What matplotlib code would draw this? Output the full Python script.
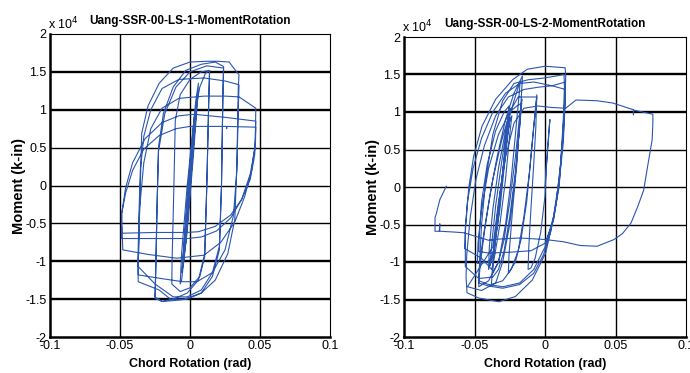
import matplotlib
matplotlib.use("Agg")
import matplotlib.pyplot as plt
from matplotlib.ticker import FixedLocator, FuncFormatter

plt.rcParams['font.family'] = ['Liberation Sans', 'DejaVu Sans']

# ---------------------------------------------------------------
# Specimen LS-1: chord rotation (rad) vs moment (k-in)
# ---------------------------------------------------------------
ls1_path = [
    # small elastic cycles
    (0.000, 0), (0.0015, 4000), (0.003, 7500), (0.0025, 5500), (0.000, -500),
    (-0.002, -5000), (-0.003, -7500), (-0.0025, -5500), (0.000, 500), (0.002, 5500),
    (0.0032, 8000), (0.0027, 6000), (0.000, -500), (-0.0025, -6000), (-0.0033, -8000),
    (-0.0028, -6000), (0.001, 3000), (0.004, 9500), (0.005, 11500), (0.0045, 10000),
    (0.0015, 3000), (-0.002, -5500), (-0.0045, -10000), (-0.0055, -11000), (-0.005, -9500),
    (-0.001, 0), (0.003, 8500), (0.0052, 12000), (0.0046, 10000), (0.001, 2000),
    (-0.003, -7000), (-0.0057, -11500), (-0.005, -9500), (0.000, 3000), (0.004, 11000),
    (0.006, 13500), (0.0055, 11500), (0.002, 3000), (-0.002, -6000), (-0.006, -12500),
    (-0.007, -13000),
    # +/-0.014 cycles
    (-0.006, -9000), (-0.002, 0), (0.003, 9000), (0.007, 13000), (0.011, 14800),
    (0.014, 15200), (0.0135, 12000), (0.012, 0), (0.0105, -9400), (0.007, -12000),
    (0.000, -13500), (-0.007, -14000), (-0.013, -13000), (-0.0128, -10000), (-0.0115, 0),
    (-0.0105, 8600), (-0.007, 12000), (0.000, 14000), (0.008, 15000), (0.014, 15200),
    (0.0135, 12000), (0.012, 0), (0.0105, -9000), (0.006, -12500), (-0.002, -14200),
    (-0.012, -15000), (-0.020, -15300), (-0.025, -14900),
    # +/-0.025 cycles
    (-0.0245, -12000), (-0.0235, -3000), (-0.0225, 5100), (-0.019, 9500), (-0.012, 13000),
    (-0.003, 15200), (0.008, 16000), (0.018, 16300), (0.024, 15700), (0.0235, 12000),
    (0.0225, 0), (0.021, -8500), (0.016, -12000), (0.008, -14200), (-0.002, -15000),
    (-0.012, -15200), (-0.020, -15300), (-0.025, -14700), (-0.0245, -11000), (-0.0235, -2000),
    (-0.0225, 4500), (-0.018, 9500), (-0.010, 13000), (0.000, 15000), (0.012, 15800),
    (0.024, 15500), (0.0235, 12000), (0.0225, 0), (0.021, -8000), (0.016, -11500),
    (0.008, -13800), (-0.002, -14700), (-0.012, -14700), (-0.025, -13000), (-0.037, -10700),
    # +/-0.036 cycles
    (-0.0365, -7000), (-0.0355, 0), (-0.0345, 6900), (-0.030, 10500), (-0.022, 13500),
    (-0.012, 15500), (0.000, 16300), (0.012, 16400), (0.020, 16400), (0.028, 16300),
    (0.030, 15800), (0.035, 14600), (0.0345, 13000), (0.0335, 3000), (0.032, -4500),
    (0.027, -9000), (0.018, -12500), (0.008, -14200), (-0.004, -15000), (-0.014, -15000),
    (-0.022, -13800), (-0.037, -12700), (-0.0372, -10000), (-0.0365, -4000), (-0.0355, 2000),
    (-0.033, 6500), (-0.028, 10000), (-0.020, 12800), (-0.008, 14000), (0.010, 14200),
    (0.025, 13800), (0.035, 13300), (0.0345, 10000), (0.0335, 2000), (0.031, -4000),
    (0.025, -8500), (0.016, -11500), (0.005, -12700), (-0.005, -12700), (-0.020, -12300),
    (-0.037, -11800),
    # +/-0.048 cycles
    (-0.0368, -9000), (-0.036, -3000), (-0.033, 3000), (-0.028, 7500), (-0.020, 10200),
    (-0.008, 11500), (0.010, 11800), (0.025, 11800), (0.035, 11700), (0.047, 10200),
    (0.0468, 8000), (0.0466, 5600), (0.044, 2000), (0.039, -1500), (0.032, -4800),
    (0.022, -7500), (0.010, -9200), (-0.0095, -9600), (-0.030, -9100), (-0.048, -8500),
    (-0.0485, -6000), (-0.0488, -3700), (-0.046, -300), (-0.041, 3000), (-0.032, 6200),
    (-0.020, 8300), (-0.008, 9200), (0.003, 9400), (0.025, 9000), (0.047, 8500),
    (0.0468, 7000), (0.0465, 5000), (0.043, 1500), (0.037, -1800), (0.029, -4300),
    (0.019, -6000), (0.008, -6800), (-0.002, -7000), (-0.025, -7000), (-0.049, -7000),
    (-0.049, -6000), (-0.0488, -3700), (-0.046, -1000), (-0.041, 2000), (-0.033, 4800),
    (-0.022, 6600), (-0.010, 7500), (0.000, 7800), (0.026, 7800), (0.0262, 7500),
    (0.0264, 7800), (0.047, 7700), (0.0468, 6000), (0.0462, 4000), (0.043, 800),
    (0.037, -1800), (0.029, -3900), (0.018, -5400), (0.006, -6100), (-0.002, -6200),
    (-0.025, -6200), (-0.0488, -6300), (-0.0488, -5500),
]

# ---------------------------------------------------------------
# Specimen LS-2: chord rotation (rad) vs moment (k-in)
# ---------------------------------------------------------------
ls2_path = [
    (0.000, 0), (0.0015, 4000), (0.003, 8000), (0.0035, 9000), (0.001, 3000),
    (0.000, -1200), (-0.003, -6000), (-0.007, -9500), (-0.010, -10800), (-0.012, -11000),
    (-0.0115, -8000), (-0.010, -3000), (-0.008, 3000), (-0.0065, 8000), (-0.0058, 12300),
    (-0.007, 10000), (-0.010, 4000), (-0.013, -2000), (-0.017, -7000), (-0.021, -10000),
    (-0.026, -11500),
    (-0.0255, -9000), (-0.023, -3000), (-0.020, 3000), (-0.018, 8500), (-0.0164, 11700),
    (-0.018, 9500), (-0.021, 4000), (-0.025, -2000), (-0.029, -7000), (-0.033, -10000),
    (-0.037, -11500),
    (-0.0365, -9000), (-0.034, -4000), (-0.030, 2000), (-0.027, 6500), (-0.0247, 9200),
    (-0.026, 7500), (-0.029, 2500), (-0.032, -3000), (-0.036, -8000), (-0.039, -10500),
    (-0.038, -8000), (-0.035, -2500), (-0.031, 3000), (-0.027, 8000), (-0.0245, 10500),
    (-0.026, 8500), (-0.030, 2000), (-0.034, -4500), (-0.037, -9000), (-0.040, -11000),
    (-0.0395, -8000), (-0.037, -3000), (-0.033, 2500), (-0.028, 7500), (-0.022, 11500),
    (-0.0176, 14100), (-0.0185, 12000), (-0.021, 7000), (-0.024, 1000), (-0.028, -5000),
    (-0.033, -10000), (-0.040, -12500), (-0.047, -13300),
    (-0.0465, -10500), (-0.045, -5000), (-0.042, 1000), (-0.037, 7000), (-0.030, 11500),
    (-0.022, 13800), (-0.012, 14300), (-0.002, 14500), (0.008, 14800), (0.0135, 15000),
    (0.0138, 13500), (0.013, 9000), (0.011, 3000), (0.008, -2000), (0.004, -6000),
    (-0.001, -9000), (-0.008, -11500), (-0.018, -13000), (-0.030, -13500), (-0.040, -13200),
    (-0.047, -12800),
    (-0.046, -10500), (-0.043, -6000), (-0.039, -1000), (-0.034, 4000), (-0.028, 9000),
    (-0.022, 12500), (-0.016, 14800), (-0.0165, 13000), (-0.018, 8000), (-0.021, 2000),
    (-0.025, -4000), (-0.029, -8500), (-0.033, -11000), (-0.037, -12000), (-0.047, -12200),
    (-0.0565, -10600),
    (-0.0565, -8000), (-0.0565, -5300), (-0.054, 0), (-0.0506, 4100), (-0.0447, 8100),
    (-0.035, 11700), (-0.023, 14300), (-0.0126, 15700), (0.000, 16100), (0.0143, 15900),
    (0.0147, 14800), (0.0142, 12000), (0.0135, 10300), (0.0124, 6300), (0.010, 0),
    (0.0064, -3900), (0.0005, -8800), (-0.009, -12400), (-0.021, -14600), (-0.0328, -15300),
    (-0.047, -14800), (-0.0553, -14100), (-0.056, -12000),
    (-0.0555, -9000), (-0.053, -4000), (-0.049, 1000), (-0.043, 5500), (-0.035, 9500),
    (-0.026, 12000), (-0.015, 13000), (-0.005, 13300), (0.005, 13500), (0.0145, 14000),
    (0.0143, 12000), (0.013, 7000), (0.010, 1000), (0.006, -4000), (0.000, -8000),
    (-0.008, -11000), (-0.018, -12800), (-0.030, -13300), (-0.040, -13000), (-0.047, -12500),
    (-0.046, -9500), (-0.042, -4500), (-0.037, 1000), (-0.031, 6000), (-0.025, 10000),
    (-0.019, 12000), (-0.012, 12000), (-0.0058, 12000), (-0.008, 8000), (-0.011, 2000),
    (-0.015, -4000), (-0.019, -8500), (-0.024, -11000), (-0.030, -12500), (-0.038, -13000),
    (-0.037, -10000), (-0.034, -5000), (-0.031, 0), (-0.028, 5000), (-0.025, 9000),
    (-0.0235, 9500), (-0.025, 7000), (-0.028, 1000), (-0.032, -5000), (-0.036, -9500),
    (-0.0378, -11000),
    (-0.045, -9500), (-0.057, -8200), (-0.0565, -6000), (-0.055, -2000), (-0.051, 2500),
    (-0.045, 6500), (-0.037, 10000), (-0.028, 12500), (-0.018, 13800), (-0.008, 14000),
    (0.005, 13500), (0.0145, 13000), (0.0142, 11000), (0.013, 6000), (0.010, 500),
    (0.006, -4500), (0.000, -7500), (-0.010, -8500), (-0.025, -8700), (-0.040, -8800),
    (-0.047, -8600), (-0.0465, -6000), (-0.045, -2000), (-0.041, 3000), (-0.035, 7500),
    (-0.029, 10000), (-0.0255, 10800), (-0.027, 8000), (-0.030, 2000), (-0.033, -4000),
    (-0.036, -8500), (-0.040, -10000), (-0.048, -10200), (-0.0475, -7500), (-0.045, -3000),
    (-0.040, 2500), (-0.033, 7000), (-0.025, 10000), (-0.020, 10800), (-0.0165, 11200),
    (-0.018, 8000), (-0.021, 1500), (-0.025, -5000), (-0.030, -10000), (-0.035, -12800),
    (-0.045, -13800), (-0.055, -13300),
    (-0.037, -8000), (-0.033, -2000), (-0.028, 4000), (-0.022, 8500), (-0.015, 10500),
    (-0.005, 10800), (0.005, 10600), (0.0147, 10500), (0.022, 11600), (0.037, 11500),
    (0.048, 11200), (0.0627, 10300), (0.0627, 9600), (0.0630, 10250), (0.0765, 9700),
    (0.0765, 8500), (0.0760, 6300), (0.073, 3000), (0.070, -400), (0.066, -2500),
    (0.061, -4800), (0.055, -6200), (0.049, -7000), (0.037, -7900), (0.025, -7800),
    (0.013, -7300), (0.000, -7000), (-0.0176, -6800), (-0.030, -6900), (-0.040, -7100),
    (-0.0577, -6100), (-0.065, -6000), (-0.0746, -5900), (-0.0746, -4900), (-0.0750, -5900),
    (-0.078, -5900), (-0.078, -4100), (-0.077, -3500), (-0.0746, -1700), (-0.070, 100),
]

titles = ["Uang-SSR-00-LS-1-MomentRotation", "Uang-SSR-00-LS-2-MomentRotation"]
x_ticks = [-0.1, -0.05, 0, 0.05, 0.1]
y_ticks = [-20000, -15000, -10000, -5000, 0, 5000, 10000, 15000, 20000]
x_label = "Chord Rotation (rad)"
y_label = "Moment (k-in)"

line_color = "#2b56b0"

fig = plt.figure(figsize=(6.9, 3.73), dpi=100)
boxes = [
    (50 / 690, 36 / 373, 280 / 690, 303 / 373),
    (404 / 690, 36 / 373, 282 / 690, 300 / 373),
]


def fmt_x(v, _):
    return f"{v:g}"


def fmt_y(v, _):
    return f"{v / 1e4:g}"


for box, path, title in zip(boxes, [ls1_path, ls2_path], titles):
    ax = fig.add_axes(box)
    ax.set_xlim(-0.1, 0.1)
    ax.set_ylim(-20000, 20000)
    ax.xaxis.set_major_locator(FixedLocator(x_ticks))
    ax.yaxis.set_major_locator(FixedLocator(y_ticks))
    ax.xaxis.set_major_formatter(FuncFormatter(fmt_x))
    ax.yaxis.set_major_formatter(FuncFormatter(fmt_y))
    ax.tick_params(length=0, labelsize=9, pad=2.5, colors="black")

    for xv in x_ticks[1:-1]:
        ax.axvline(xv, color="black", lw=1.0, zorder=1)
    for yv in y_ticks[1:-1]:
        w = 1.0 if abs(yv) <= 5000 else 1.7
        ax.axhline(yv, color="black", lw=w, zorder=1)

    xs = [p[0] for p in path]
    ys = [p[1] for p in path]
    ax.plot(xs, ys, color=line_color, lw=0.8, zorder=3)

    for side in ("left", "bottom"):
        ax.spines[side].set_linewidth(1.8)
    for side in ("top", "right"):
        ax.spines[side].set_linewidth(0.8)

    ax.set_title(title, fontsize=8.5, fontweight="bold", pad=7)
    ax.set_xlabel(x_label, fontsize=9, fontweight="bold", labelpad=4)
    ax.set_ylabel(y_label, fontsize=10.5, fontweight="bold")
    ax.yaxis.set_label_coords(-0.085, 0.5)
    ax.text(-0.008, 1.005, r"x 10$^{4}$", transform=ax.transAxes, fontsize=9,
            ha="left", va="bottom")

fig.savefig("out.png", dpi=100)
